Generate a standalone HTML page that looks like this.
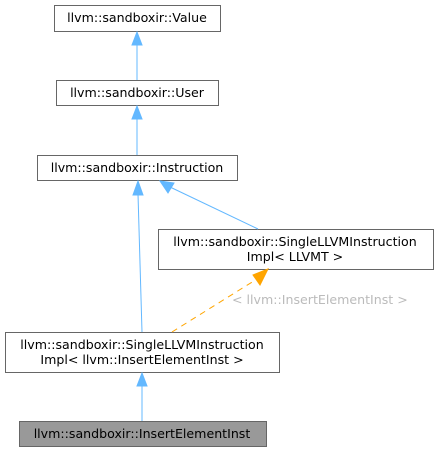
<!DOCTYPE html>
<html><head><meta charset="utf-8"><style>html,body{margin:0;padding:0;background:#fff}svg{display:block}text{font-family:"DejaVu Sans","Liberation Sans",sans-serif;font-size:12.6px;fill:#000}</style></head>
<body>
<svg width="439" height="452" viewBox="0 0 439 452" xmlns="http://www.w3.org/2000/svg">
<g stroke="#666" stroke-width="1" fill="#fff">
<rect x="54.5" y="5.5" width="166" height="26"/>
<rect x="56.5" y="80.5" width="162" height="25"/>
<rect x="37.5" y="155.5" width="200" height="25"/>
<rect x="158.5" y="229.5" width="275" height="40"/>
<rect x="5.5" y="332.5" width="274" height="40"/>
<rect x="19.5" y="421.5" width="247" height="25" fill="#999"/>
</g>
<g text-anchor="middle">
<text x="137" y="22">llvm::sandboxir::Value</text>
<text x="137" y="97">llvm::sandboxir::User</text>
<text x="137" y="172">llvm::sandboxir::Instruction</text>
<text x="295" y="246">llvm::sandboxir::SingleLLVMInstruction</text>
<text x="295" y="261">Impl&lt; LLVMT &gt;</text>
<text x="142" y="349">llvm::sandboxir::SingleLLVMInstruction</text>
<text x="142" y="364">Impl&lt; llvm::InsertElementInst &gt;</text>
<text x="142" y="438">llvm::sandboxir::InsertElementInst</text>
</g>
<text x="232" y="304" style="fill:#bbb">&lt; llvm::InsertElementInst &gt;</text>
<g stroke="#63b8ff" stroke-width="1" fill="none">
<line x1="137" y1="44" x2="137" y2="80"/>
<line x1="137" y1="119" x2="137" y2="155"/>
<line x1="138" y1="194" x2="142" y2="332"/>
<line x1="170" y1="187" x2="258" y2="229"/>
<line x1="142" y1="385" x2="142" y2="421"/>
</g>
<g fill="#63b8ff" stroke="#63b8ff">
<polygon points="137,32 132,45 142,45"/>
<polygon points="137,106 132,119 142,119"/>
<polygon points="138,181 133,195 143,195"/>
<polygon points="160,181 174,183 168,193"/>
<polygon points="142,373 137,386 147,386"/>
</g>
<line x1="172" y1="332" x2="257" y2="279" stroke="#ffa500" stroke-width="1" stroke-dasharray="6,5"/>
<polygon points="268,269 253,275 260,285" fill="#ffa500" stroke="#ffa500"/>
</svg>
</body></html>
